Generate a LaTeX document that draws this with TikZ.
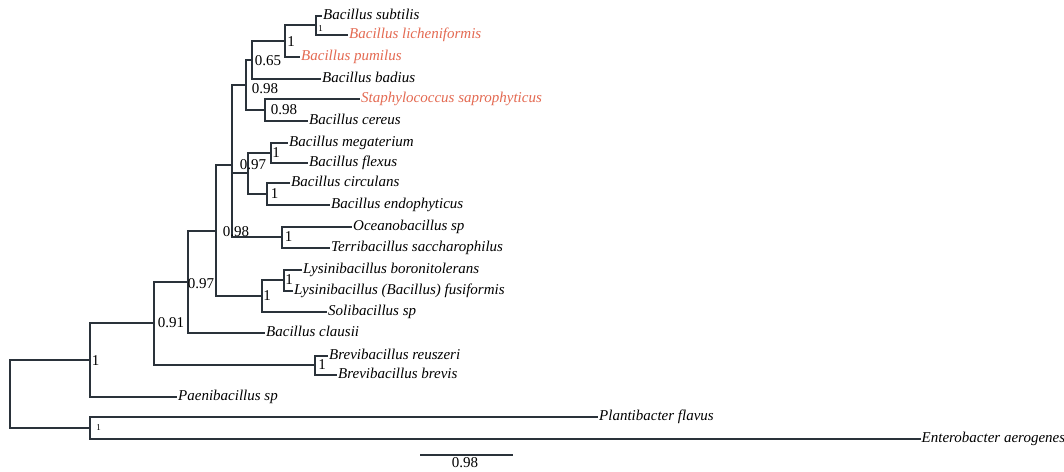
\documentclass[tikz,border=0pt]{standalone}
\usepackage{fontspec}
\setmainfont{Liberation Serif}
\definecolor{ln}{RGB}{42,50,58}
\definecolor{rd}{RGB}{228,106,82}
\begin{document}
\begin{tikzpicture}[x=1pt,y=-1pt,
  edge/.style={draw=ln,line width=1.5pt},
  leaf/.style={anchor=west,inner sep=1pt,text height=10pt,text depth=2.5pt,font=\fontsize{15}{15}\selectfont\itshape},
  redleaf/.style={leaf,text=rd},
  bs/.style={inner sep=0pt,font=\fontsize{15}{15}\selectfont},
  bssm/.style={inner sep=0pt,font=\fontsize{9}{9}\selectfont}]
\useasboundingbox[fill=white] (0,0) rectangle (1064,471);

% leaves
\node[leaf]    (subtilis) at (322,16)  {Bacillus subtilis};
\node[redleaf] (lich)     at (348,35)  {Bacillus licheniformis};
\node[redleaf] (pumilus)  at (300,57)  {Bacillus pumilus};
\node[leaf]    (badius)   at (321,79)  {Bacillus badius};
\node[redleaf] (staph)    at (360,99)  {Staphylococcus saprophyticus};
\node[leaf]    (cereus)   at (308,121) {Bacillus cereus};
\node[leaf]    (megat)    at (288,143) {Bacillus megaterium};
\node[leaf]    (flexus)   at (308,163) {Bacillus flexus};
\node[leaf]    (circ)     at (290,183) {Bacillus circulans};
\node[leaf]    (endo)     at (330,205) {Bacillus endophyticus};
\node[leaf]    (ocean)    at (352,227) {Oceanobacillus sp};
\node[leaf]    (terri)    at (330,248) {Terribacillus saccharophilus};
\node[leaf]    (boron)    at (302,270) {Lysinibacillus boronitolerans};
\node[leaf]    (fusi)     at (293,291) {Lysinibacillus (Bacillus) fusiformis};
\node[leaf]    (soli)     at (327,312) {Solibacillus sp};
\node[leaf]    (clausii)  at (265,333) {Bacillus clausii};
\node[leaf]    (reus)     at (328,356) {Brevibacillus reuszeri};
\node[leaf]    (brevis)   at (337,375) {Brevibacillus brevis};
\node[leaf]    (paeni)    at (177,397) {Paenibacillus sp};
\node[leaf]    (plant)    at (598,417) {Plantibacter flavus};
\node[leaf,inner sep=0.5pt] (entero) at (921,439) {Enterobacter aerogenes};

% internal nodes
\coordinate (A) at (316,25);
\coordinate (B) at (285,41);
\coordinate (C) at (252,60);
\coordinate (E) at (265,110);
\coordinate (D) at (246,85);
\coordinate (G) at (271,153);
\coordinate (I) at (267,194);
\coordinate (H) at (248,173);
\coordinate (J) at (282,237);
\coordinate (F) at (232,165);
\coordinate (L) at (284,280);
\coordinate (M) at (262,296);
\coordinate (K) at (216,231);
\coordinate (N) at (188,282);
\coordinate (P) at (315,365);
\coordinate (O) at (154,323);
\coordinate (Q) at (90,360);
\coordinate (R) at (90,428);
\coordinate (root) at (10,394);

% edges
\draw[edge] (A) |- (subtilis.west);
\draw[edge] (A) |- (lich.west);
\draw[edge] (B) |- (A);
\draw[edge] (B) |- (pumilus.west);
\draw[edge] (C) |- (B);
\draw[edge] (C) |- (badius.west);
\draw[edge] (E) |- (staph.west);
\draw[edge] (E) |- (cereus.west);
\draw[edge] (D) |- (C);
\draw[edge] (D) |- (E);
\draw[edge] (G) |- (megat.west);
\draw[edge] (G) |- (flexus.west);
\draw[edge] (I) |- (circ.west);
\draw[edge] (I) |- (endo.west);
\draw[edge] (H) |- (G);
\draw[edge] (H) |- (I);
\draw[edge] (J) |- (ocean.west);
\draw[edge] (J) |- (terri.west);
\draw[edge] (F) |- (D);
\draw[edge] (F) |- (H);
\draw[edge] (F) |- (J);
\draw[edge] (L) |- (boron.west);
\draw[edge] (L) |- (fusi.west);
\draw[edge] (M) |- (L);
\draw[edge] (M) |- (soli.west);
\draw[edge] (K) |- (F);
\draw[edge] (K) |- (M);
\draw[edge] (N) |- (K);
\draw[edge] (N) |- (clausii.west);
\draw[edge] (P) |- (reus.west);
\draw[edge] (P) |- (brevis.west);
\draw[edge] (O) |- (N);
\draw[edge] (O) |- (P);
\draw[edge] (Q) |- (O);
\draw[edge] (Q) |- (paeni.west);
\draw[edge] (R) |- (plant.west);
\draw[edge] (R) |- (entero.west);
\draw[edge] (root) |- (Q);
\draw[edge] (root) |- (R);

% support values
\node[bssm] (sA) at (320.5,29) {1};
\node[bs]   (sB) at (291,42)   {1};
\node[bs]   (sC) at (268,61)   {0.65};
\node[bs]   (sD) at (265,89)   {0.98};
\node[bs]   (sE) at (284,110)  {0.98};
\node[bs]   (sG) at (276,153)  {1};
\node[bs]   (sI) at (274.5,194) {1};
\node[bs]   (sH) at (253,165)  {0.97};
\node[bs]   (sJ) at (288.5,237) {1};
\node[bs]   (sF) at (236,232)  {0.98};
\node[bs]   (sL) at (289,280)  {1};
\node[bs]   (sM) at (267,296)  {1};
\node[bs]   (sN) at (201,284)  {0.97};
\node[bs]   (sO) at (171,323)  {0.91};
\node[bs]   (sP) at (322,365)  {1};
\node[bs]   (sQ) at (95.5,361) {1};
\node[bssm] (sR) at (98.5,428) {1};

% scale bar
\coordinate (s1) at (420,455);
\coordinate (s2) at (513,455);
\draw[edge] (s1) -- (s2);
\node[bs] (scl) at (465,463) {0.98};
\end{tikzpicture}
\end{document}
